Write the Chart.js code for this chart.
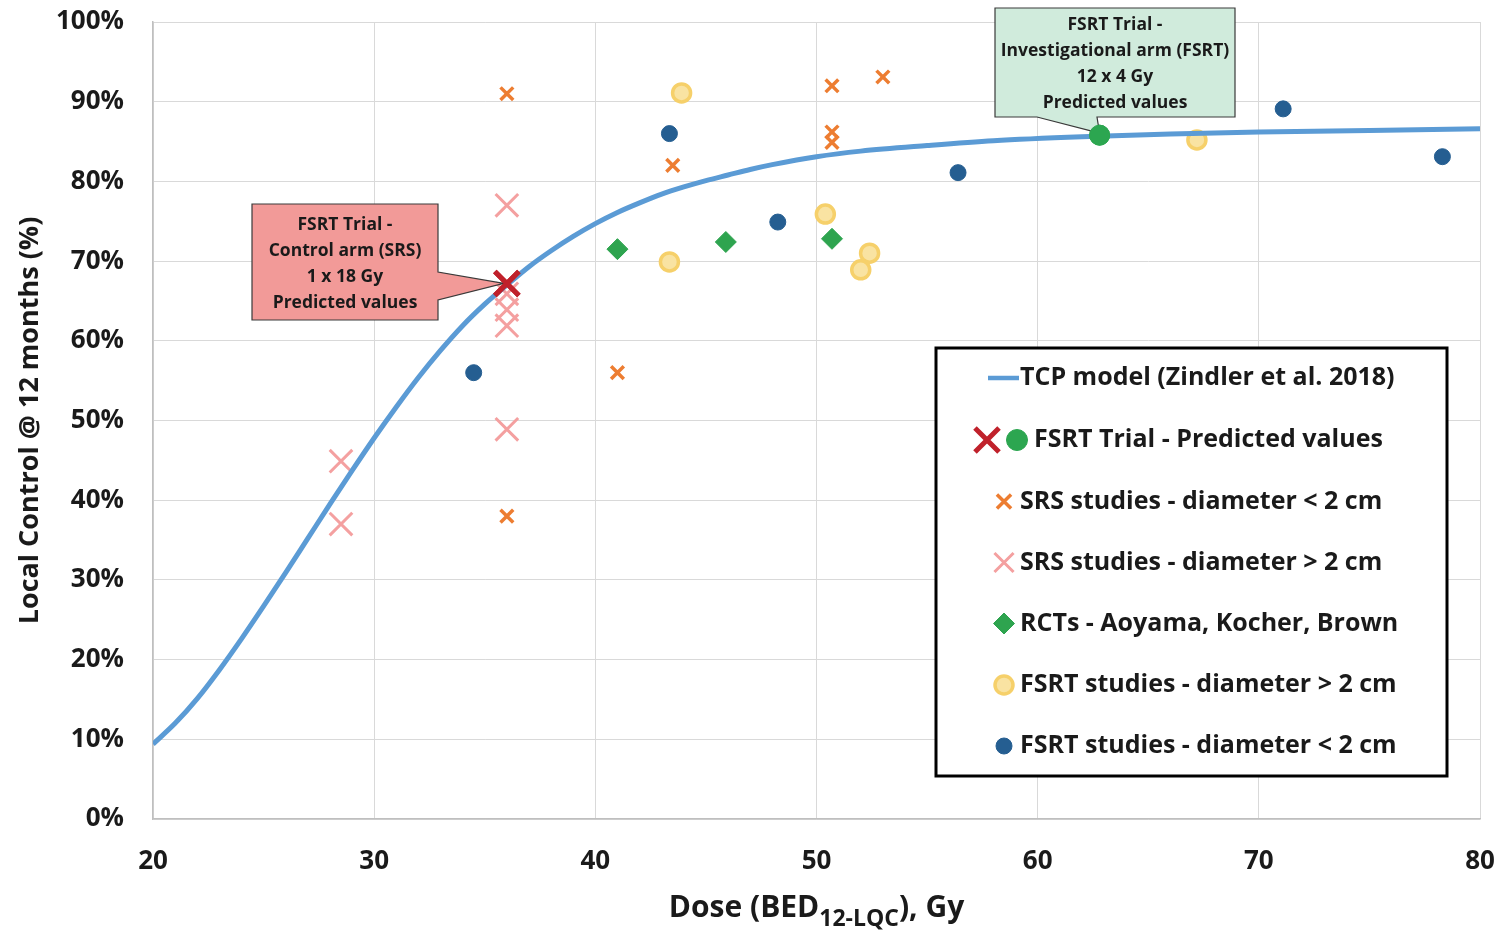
<!DOCTYPE html>
<html>
<head>
<meta charset="utf-8">
<script src="https://cdn.jsdelivr.net/npm/chart.js@4.4.1/dist/chart.umd.min.js"></script>
<style>
  html, body { margin: 0; padding: 0; background: #ffffff; }
  #wrap { width: 1499px; height: 930px; }
</style>
</head>
<body>
<div id="wrap"><canvas id="tcpChart" width="1499" height="930"></canvas></div>
<script>
// ---------------------------------------------------------------
// data (dose in Gy BED, local control in %)
// ---------------------------------------------------------------
const tcpDose    = [20, 21, 22, 23, 24, 25, 26, 27, 28, 29, 30, 31, 32, 33, 34, 35, 36, 37, 38, 39, 40, 41, 42, 43, 44, 45, 46, 47, 48, 50, 52, 55, 58, 62, 66, 70, 75, 80];
const tcpControl = [9.4, 12.0, 15.1, 18.7, 22.6, 26.7, 30.9, 35.2, 39.5, 43.7, 47.8, 51.7, 55.4, 58.8, 61.9, 64.6, 67.0, 69.3, 71.3, 73.1, 74.7, 76.1, 77.3, 78.4, 79.3, 80.1, 80.8, 81.5, 82.1, 83.1, 83.8, 84.5, 85.1, 85.6, 85.95, 86.2, 86.4, 86.6];

const trialSrsDose = [36];
const trialSrsControl = [67.2];
const trialFsrtDose = [62.8];
const trialFsrtControl = [85.8];

const srsSmallDose    = [36, 36, 41, 43.5, 50.7, 50.7, 50.7, 53];
const srsSmallControl = [91, 38, 56, 82, 92, 86.2, 84.9, 93.1];

const srsLargeDose    = [28.5, 28.5, 36, 36, 36, 36, 36];
const srsLargeControl = [44.9, 37, 77, 65.9, 63.9, 61.9, 48.9];

const rctDose    = [41, 45.9, 50.7];
const rctControl = [71.5, 72.4, 72.8];

const fsrtLargeDose    = [43.9, 43.35, 50.4, 52.4, 52, 67.2];
const fsrtLargeControl = [91.1, 69.9, 75.9, 71, 68.9, 85.2];

const fsrtSmallDose    = [34.5, 43.35, 48.25, 56.4, 71.1, 78.3];
const fsrtSmallControl = [56, 86, 74.9, 81.1, 89.1, 83.1];

const yTicks = [0, 10, 20, 30, 40, 50, 60, 70, 80, 90, 100];

const legendLabels = [
    'TCP model (Zindler et al. 2018)',
    'FSRT Trial - Predicted values',
    'SRS studies - diameter < 2 cm',
    'SRS studies - diameter > 2 cm',
    'RCTs - Aoyama, Kocher, Brown',
    'FSRT studies - diameter > 2 cm',
    'FSRT studies - diameter < 2 cm'
];

const srsCallout  = ['FSRT Trial -', 'Control arm (SRS)', '1 x 18 Gy', 'Predicted values'];
const fsrtCallout = ['FSRT Trial -', 'Investigational arm (FSRT)', '12 x 4 Gy', 'Predicted values'];

function pts(xs, ys) { return xs.map((x, i) => ({ x: x, y: ys[i] })); }

const FONT = '"Open Sans", "Noto Sans", sans-serif';
const TEXT = '#1a1a1a';

// marker styles, shared by the datasets and the hand drawn legend
const styles = {
    line:      { color: '#5b9bd5' },
    trialX:    { pointStyle: 'crossRot', radius: 17, borderWidth: 5, borderColor: '#c0212b', backgroundColor: '#c0212b' },
    trialDot:  { pointStyle: 'circle', radius: 10, borderWidth: 1, borderColor: '#2ca650', backgroundColor: '#2ca650' },
    srsSmall:  { pointStyle: 'crossRot', radius: 9, borderWidth: 3.5, borderColor: '#ed7d31', backgroundColor: '#ed7d31' },
    srsLarge:  { pointStyle: 'crossRot', radius: 16, borderWidth: 3, borderColor: '#f4a0a0', backgroundColor: '#f4a0a0' },
    rct:       { pointStyle: 'rectRot', radius: 10.5, borderWidth: 1, borderColor: '#2ea44f', backgroundColor: '#2ea44f' },
    fsrtLarge: { pointStyle: 'circle', radius: 9, borderWidth: 3.5, borderColor: '#f6d06a', backgroundColor: '#f9e3a2' },
    fsrtSmall: { pointStyle: 'circle', radius: 8, borderWidth: 1, borderColor: '#255e91', backgroundColor: '#255e91' }
};

function scatterSet(label, data, st, order) {
    return {
        label: label,
        data: data,
        pointStyle: st.pointStyle,
        pointRadius: st.radius,
        pointHoverRadius: st.radius,
        pointBorderWidth: st.borderWidth,
        pointBorderColor: st.borderColor,
        pointBackgroundColor: st.backgroundColor,
        showLine: false,
        order: order
    };
}

function mark(ctx, st, x, y, r) {
    ctx.strokeStyle = st.borderColor;
    ctx.fillStyle = st.backgroundColor;
    ctx.lineWidth = st.borderWidth;
    Chart.helpers.drawPoint(ctx, { pointStyle: st.pointStyle, radius: r || st.radius, borderWidth: st.borderWidth, rotation: 0 }, x, y);
}

// --- callout boxes with a pointer to the trial markers ---
const calloutPlugin = {
    id: 'callouts',
    afterDatasetsDraw(chart) {
        const ctx = chart.ctx;
        const xs = chart.scales.x, ys = chart.scales.y;
        ctx.save();
        ctx.lineWidth = 1.2;
        ctx.strokeStyle = '#3a3a3a';

        // red box, pointer on the right side
        let tx = xs.getPixelForValue(trialSrsDose[0]) - 3;
        let ty = ys.getPixelForValue(trialSrsControl[0]);
        let L = 252, T = 204, R = 438, B = 320;
        ctx.beginPath();
        ctx.moveTo(L, T); ctx.lineTo(R, T); ctx.lineTo(R, 272);
        ctx.lineTo(tx, ty); ctx.lineTo(R, 300); ctx.lineTo(R, B);
        ctx.lineTo(L, B); ctx.closePath();
        ctx.fillStyle = '#f29a98';
        ctx.fill(); ctx.stroke();
        drawLines(ctx, srsCallout, (L + R) / 2, 225);

        // green box, pointer below
        tx = xs.getPixelForValue(trialFsrtDose[0]);
        ty = ys.getPixelForValue(trialFsrtControl[0]) - 2;
        L = 995; T = 8; R = 1235; B = 117;
        ctx.lineWidth = 1.2;
        ctx.strokeStyle = '#3a3a3a';
        ctx.beginPath();
        ctx.moveTo(L, T); ctx.lineTo(R, T); ctx.lineTo(R, B);
        ctx.lineTo(1097, B); ctx.lineTo(tx, ty); ctx.lineTo(1037, B);
        ctx.lineTo(L, B); ctx.closePath();
        ctx.fillStyle = '#d0ebdc';
        ctx.fill(); ctx.stroke();
        drawLines(ctx, fsrtCallout, (L + R) / 2, 25);

        // trial markers sit on top of the pointers
        chart.getDatasetMeta(0).data.forEach(el => mark(ctx, styles.trialX, el.x, el.y));
        chart.getDatasetMeta(1).data.forEach(el => mark(ctx, styles.trialDot, el.x, el.y));
        ctx.restore();

        function drawLines(c, lines, cx, y0) {
            c.fillStyle = TEXT;
            c.font = 'bold 17.5px ' + FONT;
            c.textAlign = 'center';
            c.textBaseline = 'middle';
            lines.forEach((t, i) => c.fillText(t, cx, y0 + i * 26));
        }
    }
};

// --- boxed legend inside the plot, bottom right ---
const legendPlugin = {
    id: 'boxLegend',
    afterDraw(chart) {
        const ctx = chart.ctx;
        ctx.save();
        const L = 936, T = 348, W = 511, H = 428;
        ctx.fillStyle = '#ffffff';
        ctx.fillRect(L, T, W, H);
        ctx.lineWidth = 3;
        ctx.strokeStyle = '#000000';
        ctx.strokeRect(L, T, W, H);

        const rowY = [378, 440, 501.5, 562.5, 623.5, 685, 746];
        const textX = [1020, 1034, 1020, 1020, 1020, 1020, 1020];
        const sym = 1004;

        // row 1: line sample
        ctx.strokeStyle = styles.line.color;
        ctx.lineWidth = 4.5;
        ctx.beginPath(); ctx.moveTo(988, rowY[0]); ctx.lineTo(1019, rowY[0]); ctx.stroke();

        mark(ctx, styles.trialX, 987, rowY[1], 17);
        mark(ctx, styles.trialDot, 1017, rowY[1], 10.5);
        mark(ctx, styles.srsSmall, sym, rowY[2], 10);
        mark(ctx, styles.srsLarge, sym, rowY[3], 13.5);
        mark(ctx, styles.rct, sym, rowY[4], 10.5);
        mark(ctx, styles.fsrtLarge, sym, rowY[5], 9);
        mark(ctx, styles.fsrtSmall, sym, rowY[6], 8);

        ctx.fillStyle = TEXT;
        ctx.font = 'bold 25px ' + FONT;
        ctx.textAlign = 'left';
        ctx.textBaseline = 'middle';
        legendLabels.forEach((t, i) => ctx.fillText(t, textX[i], rowY[i]));
        ctx.restore();
    }
};

// --- x axis title with the subscript ---
const xTitlePlugin = {
    id: 'xTitle',
    afterDraw(chart) {
        const ctx = chart.ctx;
        const a = 'Dose (BED', sub = '12-LQC', b = '), Gy';
        const mainFont = 'bold 30px ' + FONT, subFont = 'bold 23px ' + FONT;
        ctx.save();
        ctx.fillStyle = TEXT;
        ctx.textBaseline = 'alphabetic';
        ctx.textAlign = 'left';
        ctx.font = mainFont;
        const wa = ctx.measureText(a).width, wb = ctx.measureText(b).width;
        ctx.font = subFont;
        const ws = ctx.measureText(sub).width;
        const area = chart.chartArea;
        let x = (area.left + area.right) / 2 - (wa + ws + wb) / 2;
        const base = 917;
        ctx.font = mainFont; ctx.fillText(a, x, base); x += wa;
        ctx.font = subFont; ctx.fillText(sub, x, base + 9); x += ws;
        ctx.font = mainFont; ctx.fillText(b, x, base);
        ctx.restore();
    }
};

new Chart(document.getElementById('tcpChart'), {
    type: 'scatter',
    data: {
        datasets: [
            scatterSet('FSRT Trial - Control arm (SRS)', pts(trialSrsDose, trialSrsControl), styles.trialX, 0),
            scatterSet('FSRT Trial - Investigational arm (FSRT)', pts(trialFsrtDose, trialFsrtControl), styles.trialDot, 0),
            {
                label: legendLabels[0],
                data: pts(tcpDose, tcpControl),
                showLine: true,
                borderColor: styles.line.color,
                borderWidth: 5,
                pointRadius: 0,
                fill: false,
                cubicInterpolationMode: 'monotone',
                order: 1
            },
            scatterSet(legendLabels[2], pts(srsSmallDose, srsSmallControl), styles.srsSmall, 2),
            scatterSet(legendLabels[3], pts(srsLargeDose, srsLargeControl), styles.srsLarge, 3),
            scatterSet(legendLabels[4], pts(rctDose, rctControl), styles.rct, 2),
            scatterSet(legendLabels[5], pts(fsrtLargeDose, fsrtLargeControl), styles.fsrtLarge, 2),
            scatterSet(legendLabels[6], pts(fsrtSmallDose, fsrtSmallControl), styles.fsrtSmall, 2)
        ]
    },
    options: {
        responsive: false,
        animation: false,
        layout: { autoPadding: false, padding: { top: 22, right: 19, left: 0, bottom: 0 } },
        plugins: {
            legend: { display: false },
            tooltip: { enabled: false }
        },
        scales: {
            x: {
                type: 'linear',
                min: 20, max: 80,
                ticks: { stepSize: 10, color: TEXT, font: { family: FONT, size: 26, weight: 'bold' }, padding: 27 },
                grid: { color: '#d9d9d9', lineWidth: 1, drawTicks: false },
                border: { color: '#bfbfbf', width: 1.5 },
                afterFit: s => { s.height = 111; s.paddingLeft = 0; s.paddingRight = 0; }
            },
            y: {
                min: 0, max: 100,
                afterBuildTicks: s => { s.ticks = yTicks.map(v => ({ value: v })); },
                ticks: { color: TEXT, font: { family: FONT, size: 26, weight: 'bold' }, padding: 29, callback: v => v + '%' },
                grid: { color: '#d9d9d9', lineWidth: 1, drawTicks: false },
                border: { color: '#bfbfbf', width: 1.5 },
                title: {
                    display: true,
                    text: 'Local Control @ 12 months (%)',
                    color: TEXT,
                    font: { family: FONT, size: 27, weight: 'bold' },
                    padding: { top: 14, bottom: 0 }
                },
                afterFit: s => { s.width = 153; s.paddingTop = 0; s.paddingBottom = 0; }
            }
        }
    },
    plugins: [calloutPlugin, legendPlugin, xTitlePlugin]
});
</script>
</body>
</html>
